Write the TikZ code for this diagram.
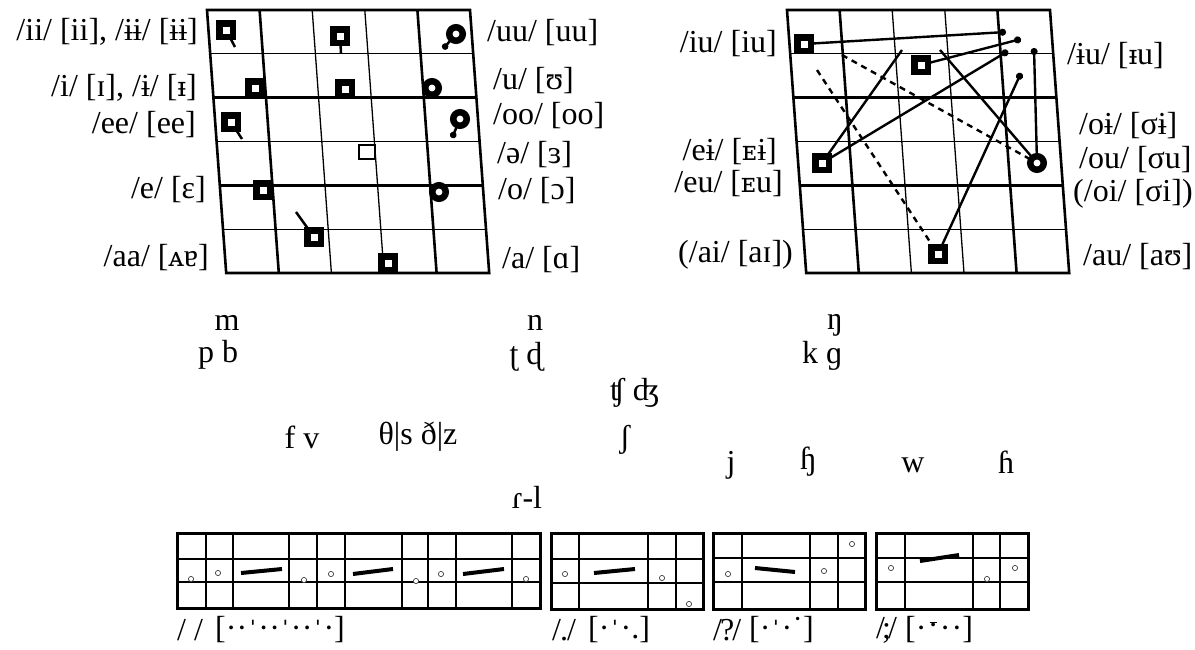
\documentclass[tikz,border=0pt]{standalone}
\usepackage{fontspec}
\setmainfont{Liberation Serif}
\newfontfamily\dvs[Scale=0.85]{DejaVu Serif}
\usetikzlibrary{arrows.meta}
\newcommand\ig{\hspace{0.2pt}}
\newcommand\igw{\hspace{1.3pt}}
\newcommand\tk{\raisebox{-4pt}{ˈ}}
\newcommand\mdt{\ooalign{\hfil\raisebox{16pt}{\rule{7pt}{1.4pt}}\hfil\cr\hfil\raisebox{3pt}{·}\hfil\cr}}
\begin{document}
\begin{tikzpicture}[x=1pt,y=-1pt, font=\fontsize{32}{35}\selectfont,
  thk/.style={line width=2.6pt},
  thn/.style={line width=1.3pt},
  sq/.style={draw, line width=6.5pt, fill=white, minimum size=13.5pt, inner sep=0pt, outer sep=0pt},
  ring/.style={circle, draw, line width=6.5pt, fill=white, minimum size=13.5pt, inner sep=0pt, outer sep=0pt},
  osq/.style={draw, line width=2.3pt, fill=white, minimum width=16.5pt, minimum height=14.5pt, inner sep=0pt},
  tl/.style={line width=2.5pt},
  tld/.style={line width=2.5pt, -{Circle[length=6.5pt]}},
  dl/.style={line width=2.4pt, {Circle[length=7pt]}-},
  pl/.style={line width=2.4pt},
  dsh/.style={line width=2.4pt, dash pattern=on 6pt off 5pt},
  lab/.style={inner sep=0pt},
  bxo/.style={line width=3pt},
  bxk/.style={line width=2.3pt},
  bxn/.style={line width=1.2pt},
  bar/.style={line width=4pt},
  sc/.style={draw=black!75, line width=0.7pt, fill=white}]
\useasboundingbox (0,0) rectangle (1195,649);

% ---- vowel chart grids ----
\foreach \X in {207,787}{
  \foreach \v/\s in {1/thn,3/thn,5/thn,2/thk,4/thk}
    \draw[\s] ({\X+3.2*\v},{10+43.83*\v}) -- ({\X+263+3.2*\v},{10+43.83*\v});
  \foreach \u/\s in {2/thn,3/thn,1/thk,4/thk}
    \draw[\s] ({\X+52.6*\u},10) -- ({\X+52.6*\u+19.2},273);
  \draw[thk, line join=miter] ({\X},10) -- ({\X+263},10) -- ({\X+282.2},273) -- ({\X+19.2},273) -- cycle;
}

% ---- left chart markers ----
\node[sq] (ii) at (226,30) {};
\node[sq] (ib) at (340,36) {};
\node[ring] (uu) at (456,34) {};
\node[sq] (i) at (255,88) {};
\node[sq] (ic) at (345,89) {};
\node[ring] (u) at (432,88) {};
\node[sq] (ee) at (231,122) {};
\node[ring] (oo) at (460,119) {};
\node[osq] (schwa) at (367,152) {};
\node[sq] (e) at (263,190) {};
\node[ring] (o) at (439,192) {};
\node[sq] (aa) at (314,237) {};
\node[sq] (a) at (388,263) {};
\coordinate (tii) at (235,47); \draw[tl] (ii) -- (tii);
\coordinate (tib) at (341,53); \draw[tl] (ib) -- (tib);
\coordinate (tuu) at (443,49); \draw[tld] (uu) -- (tuu);
\coordinate (tee) at (242,139); \draw[tl] (ee) -- (tee);
\coordinate (too) at (452,138); \draw[tld] (oo) -- (too);
\coordinate (taa) at (296,212); \draw[tl] (aa) -- (taa);

% ---- left chart labels ----
\node[lab, anchor=east] (l1) at (198,32) {/ii/ [ii], /ɨɨ/ [ɨɨ]};
\node[lab, anchor=east] (l2) at (197,88) {/i/ [ɪ], /ɨ/ [{\dvs ᵻ}]};
\node[lab, anchor=east] (l3) at (196,125) {/ee/ [ee]};
\node[lab, anchor=east] (l4) at (206,190) {/e/ [ɛ]};
\node[lab, anchor=east] (l5) at (209,258) {/aa/ [{\dvs ᴀ}ɐ]};
\node[lab, anchor=west] (r1) at (487,33) {/uu/ [uu]};
\node[lab, anchor=west] (r2) at (493,81) {/u/ [ʊ]};
\node[lab, anchor=west] (r3) at (493,116) {/oo/ [oo]};
\node[lab, anchor=west] (r4) at (497,155) {/ə/ [ɜ]};
\node[lab, anchor=west] (r5) at (498,191) {/o/ [ɔ]};
\node[lab, anchor=west] (r6) at (502,260) {/a/ [ɑ]};

% ---- right chart markers and glides ----
\node[sq] (iu) at (804,44) {};
\node[sq] (Iu) at (921,65) {};
\node[sq] (ei) at (822,163) {};
\node[ring] (ou) at (1037,163) {};
\node[sq] (au) at (938,254) {};
\coordinate (d1) at (1006,32); \draw[dl] (d1) -- (iu);
\coordinate (d2) at (1021,39); \draw[dl] (d2) -- (Iu);
\coordinate (e1) at (902,50); \draw[pl] (e1) -- (ei);
\coordinate (d3) at (1008,51); \draw[dl] (d3) -- (ei);
\coordinate (e2) at (940,50); \draw[pl] (e2) -- (ou);
\coordinate (d4) at (1034,48); \draw[dl] (d4) -- (ou);
\coordinate (d5) at (1021,73); \draw[dl] (d5) -- (au);
\coordinate (s1) at (842,55); \draw[dsh] (s1) -- (ou);
\coordinate (s2) at (817,70); \draw[dsh] (s2) -- (au);

% ---- right chart labels ----
\node[lab, anchor=east] (m1) at (777,44) {/iu/ [iu]};
\node[lab, anchor=east] (m2) at (777,152) {/eɨ/ [{\dvs ᴇ}ɨ]};
\node[lab, anchor=east] (m3) at (783,184) {/eu/ [{\dvs ᴇ}u]};
\node[lab, anchor=east] (m4) at (793,255) {(/ai/ [aɪ])};
\node[lab, anchor=west] (n1) at (1067,56) {/ɨu/ [{\dvs ᵻ}u]};
\node[lab, anchor=west] (n2) at (1079,126) {/oɨ/ [σɨ]};
\node[lab, anchor=west] (n3) at (1079,160) {/ou/ [σu]};
\node[lab, anchor=west] (n4) at (1073,194) {(/oi/ [σi])};
\node[lab, anchor=west] (n5) at (1083,257) {/au/ [aʊ]};

% ---- consonants ----
\node[lab] (cm) at (227,323) {m};
\node[lab] (cpb) at (218,355) {p b};
\node[lab] (cn) at (535,323) {n};
\node[lab] (ctd) at (526,357) {ʈ ɖ};
\node[lab] (cng) at (835,325) {ŋ};
\node[lab] (ckg) at (822,356) {k ɡ};
\node[lab] (caff) at (635,393) {ʧ ʤ};
\node[lab] (cfv) at (302,437) {f v};
\node[lab] (cth) at (418,437) {θ|s ð|z};
\node[lab] (csh) at (625,440) {ʃ};
\node[lab] (cj) at (731,465) {j};
\node[lab] (chh) at (808,462) {ɧ};
\node[lab] (cw) at (913,465) {w};
\node[lab] (chf) at (1006,462) {ɦ};
\node[lab] (crl) at (527,497) {ɾ-l};

% ---- intonation boxes ----
% box 1
\foreach \x in {206,317,428} \draw[bxn] (\x,533) -- (\x,608);
\foreach \y in {559,582} \draw[bxn] (177,\y) -- (540,\y);
\foreach \x in {233,289,345,402,456,512} \draw[bxk] (\x,533) -- (\x,608);
\draw[bxo] (177,533) rectangle (540,608);
\foreach \p in {(191,579),(218,573),(304,580),(331,574),(416,581),(441,574),(526,579)}
  \draw[sc] \p circle (2.6);
\draw[bar] (241,573) -- (282,569);
\draw[bar] (353,574) -- (393,569);
\draw[bar] (463,574) -- (504,569);
% box 2
\foreach \y in {559,583} \draw[bxn] (551,\y) -- (703,\y);
\foreach \x in {579,648,676} \draw[bxk] (\x,533) -- (\x,609);
\draw[bxo] (551,533) rectangle (703,609);
\foreach \p in {(565,574),(662,578),(689,604)} \draw[sc] \p circle (2.6);
\draw[bar] (594,573) -- (635,569);
% box 3
\foreach \y in {558,582} \draw[bxn] (713,\y) -- (865,\y);
\foreach \x in {742,810,838} \draw[bxk] (\x,533) -- (\x,609);
\draw[bxo] (713,533) rectangle (865,609);
\foreach \p in {(728,574),(824,571),(852,544)} \draw[sc] \p circle (2.6);
\draw[bar] (755,568) -- (795,572);
% box 4
\foreach \y in {558,582} \draw[bxn] (876,\y) -- (1028,\y);
\foreach \x in {905,973,1000} \draw[bxk] (\x,533) -- (\x,609);
\draw[bxo] (876,533) rectangle (1028,609);
\foreach \p in {(891,568),(987,579),(1015,568)} \draw[sc] \p circle (2.6);
\draw[bar] (920,561) -- (959,555);

% ---- intonation labels ----
\node[lab, anchor=west] (b1) at (177,630) {/ /};
\node[lab, anchor=west] (b1t) at (215,630) {[·\ig{}·\ig\tk\ig{}·\ig{}·\ig\tk\ig{}·\ig{}·\ig\tk\ig{}·]};
\node[lab, anchor=west] (b2) at (552,630) {/\kern-1pt.\kern-1pt/};
\node[lab, anchor=west] (b2t) at (588,630) {[·\ig\tk\ig{}·\ig{}.]};
\node[lab, anchor=west] (b3) at (713,630) {/\kern-2pt?\kern-2pt/};
\node[lab, anchor=west] (b3t) at (749,630) {[·\ig\tk\ig{}·\ig{}˙]};
\node[lab, anchor=west] (b4) at (876,630) {/\kern-3pt;\kern-3pt/};
\node[lab, anchor=west] (b4t) at (905,630) {[·\igw\mdt\igw{}·\igw{}·]};
\end{tikzpicture}
\end{document}
